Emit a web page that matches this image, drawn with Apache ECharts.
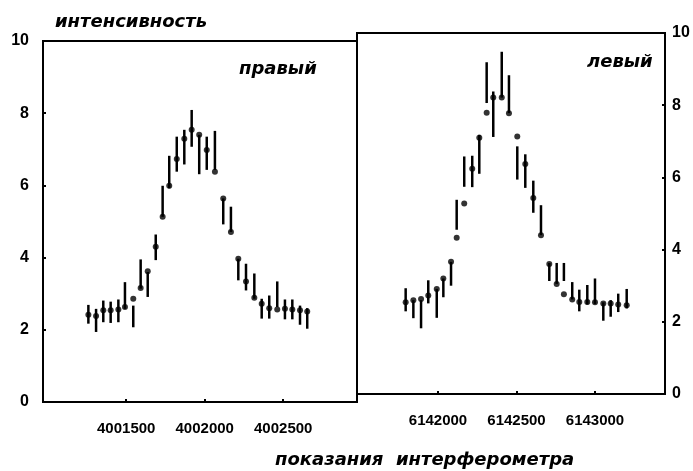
<!DOCTYPE html>
<html>
<head>
<meta charset="utf-8">
<script src="https://cdn.jsdelivr.net/npm/echarts@6/dist/echarts.min.js"></script>
<style>
  html, body { margin: 0; padding: 0; background: #fff; }
  #chart { width: 693px; height: 471px; }
</style>
</head>
<body>
<div id="chart"></div>
<script>
// левая панель (правый)
const leftX = [4001259, 4001308, 4001354, 4001401, 4001450, 4001492, 4001545, 4001592, 4001637, 4001688,
  4001732, 4001774, 4001822, 4001870, 4001917, 4001965, 4002013, 4002065, 4002118, 4002167,
  4002214, 4002263, 4002316, 4002363, 4002411, 4002462, 4002511, 4002558, 4002607, 4002653]
const leftY = [2.42, 2.38, 2.54, 2.54, 2.56, 2.63, 2.86, 3.16, 3.62, 4.30,
  5.13, 5.99, 6.73, 7.29, 7.54, 7.40, 6.98, 6.38, 5.64, 4.71,
  3.97, 3.34, 2.89, 2.72, 2.60, 2.56, 2.58, 2.56, 2.54, 2.51]
const leftHi = [2.69, 2.58, 2.81, 2.78, 2.84, 3.32, 2.67, 3.95, 3.60, 4.64,
  5.99, 6.82, 7.35, 7.54, 8.09, 7.40, 7.35, 7.51, 5.64, 5.41,
  3.97, 3.83, 3.56, 2.86, 2.95, 3.34, 2.84, 2.84, 2.67, 2.60]
const leftLo = [2.17, 1.94, 2.21, 2.19, 2.21, 2.58, 2.07, 3.14, 2.91, 3.93,
  5.13, 5.92, 6.38, 6.58, 7.07, 6.31, 6.43, 6.43, 4.92, 4.71,
  3.37, 3.09, 2.86, 2.31, 2.31, 2.63, 2.29, 2.29, 2.14, 2.03]

// правая панель (левый)
const rightX = [6141794, 6141843, 6141892, 6141938, 6141992, 6142034, 6142083, 6142119, 6142167, 6142218,
  6142263, 6142310, 6142352, 6142406, 6142452, 6142505, 6142556, 6142607, 6142656, 6142709,
  6142756, 6142802, 6142855, 6142900, 6142951, 6143000, 6143053, 6143100, 6143148, 6143202]
const rightY = [2.54, 2.60, 2.63, 2.73, 2.91, 3.20, 3.66, 4.33, 5.28, 6.24,
  7.10, 7.79, 8.21, 8.21, 7.78, 7.13, 6.37, 5.43, 4.40, 3.60,
  3.05, 2.76, 2.62, 2.55, 2.55, 2.54, 2.51, 2.51, 2.48, 2.46]
const rightHi = [2.93, 2.60, 2.60, 3.15, 2.91, 3.20, 3.66, 5.38, 6.58, 6.60,
  7.18, 9.19, 8.38, 9.48, 8.83, 6.86, 6.64, 5.91, 5.23, 3.63,
  3.63, 3.63, 3.10, 2.89, 3.02, 3.20, 2.54, 2.60, 2.78, 2.91]
const rightLo = [2.29, 2.10, 1.82, 2.51, 2.11, 2.68, 3.00, 4.55, 5.74, 5.73,
  6.10, 8.06, 7.12, 8.21, 7.78, 5.94, 5.71, 5.02, 4.40, 3.13,
  3.05, 3.13, 2.62, 2.29, 2.48, 2.49, 2.03, 2.14, 2.27, 2.37]

const leftTicks = [4001500, 4002000, 4002500]
const rightTicks = [6142000, 6142500, 6143000]
const yTicks = [0, 2, 4, 6, 8, 10]

const labelFont = { color: '#000', fontWeight: 'bold', fontFamily: 'Liberation Sans' }
const italicFont = { color: '#000', fontWeight: 'bold', fontStyle: 'italic', fontFamily: 'DejaVu Sans', fontSize: 18 }

// вертикальная ошибка: [x, верх, низ]
const errorBar = (params, api) => {
  const top = api.coord([api.value(0), api.value(1)])
  const bot = api.coord([api.value(0), api.value(2)])
  return {
    type: 'line',
    shape: { x1: top[0], y1: top[1], x2: bot[0], y2: bot[1] },
    style: { stroke: '#000', lineWidth: 2.5 }
  }
}

const xAxisBase = (gridIndex, min, max, ticks) => ({
  type: 'value',
  gridIndex,
  min,
  max,
  splitLine: { show: false },
  axisLine: { show: false },
  axisTick: { show: true, inside: true, length: 3, customValues: ticks, lineStyle: { color: '#000', width: 2 } },
  axisLabel: { customValues: ticks, margin: 19, fontSize: 15, ...labelFont, formatter: v => String(v) }
})

const yAxisBase = (gridIndex, position, margin) => ({
  type: 'value',
  gridIndex,
  position,
  min: 0,
  max: 10,
  splitLine: { show: false },
  axisLine: { show: false },
  axisTick: { show: true, inside: true, length: 3, customValues: yTicks, lineStyle: { color: '#000', width: 2 } },
  axisLabel: { customValues: yTicks, margin, fontSize: 16, ...labelFont }
})

const chart = echarts.init(document.getElementById('chart'))

const option = {
  animation: false,
  backgroundColor: '#fff',
  title: [
    { text: 'интенсивность', left: 50, top: 8, textStyle: italicFont },
    { text: 'правый', left: 234, top: 55, textStyle: italicFont },
    { text: 'левый', left: 582, top: 48, textStyle: italicFont },
    { text: 'показания  интерферометра', left: 270, top: 446, textStyle: italicFont }
  ],
  grid: [
    { left: 43, top: 41, width: 314, height: 361, show: true, borderColor: '#000', borderWidth: 2, backgroundColor: 'transparent' },
    { left: 357, top: 33, width: 308, height: 361, show: true, borderColor: '#000', borderWidth: 2, backgroundColor: 'transparent' }
  ],
  xAxis: [
    xAxisBase(0, 4000970, 4002970, leftTicks),
    xAxisBase(1, 6141484, 6143446, rightTicks)
  ],
  yAxis: [
    yAxisBase(0, 'left', 14),
    yAxisBase(1, 'right', 7)
  ],
  series: [
    {
      type: 'custom',
      xAxisIndex: 0,
      yAxisIndex: 0,
      renderItem: errorBar,
      encode: { x: 0, y: [1, 2] },
      data: leftX.map((x, i) => [x, leftHi[i], leftLo[i]])
    },
    {
      type: 'scatter',
      xAxisIndex: 0,
      yAxisIndex: 0,
      symbolSize: 6,
      itemStyle: { color: '#000' },
      data: leftX.map((x, i) => [x, leftY[i]])
    },
    {
      type: 'custom',
      xAxisIndex: 1,
      yAxisIndex: 1,
      renderItem: errorBar,
      encode: { x: 0, y: [1, 2] },
      data: rightX.map((x, i) => [x, rightHi[i], rightLo[i]])
    },
    {
      type: 'scatter',
      xAxisIndex: 1,
      yAxisIndex: 1,
      symbolSize: 6,
      itemStyle: { color: '#000' },
      data: rightX.map((x, i) => [x, rightY[i]])
    }
  ]
}

chart.setOption(option)
</script>
</body>
</html>
